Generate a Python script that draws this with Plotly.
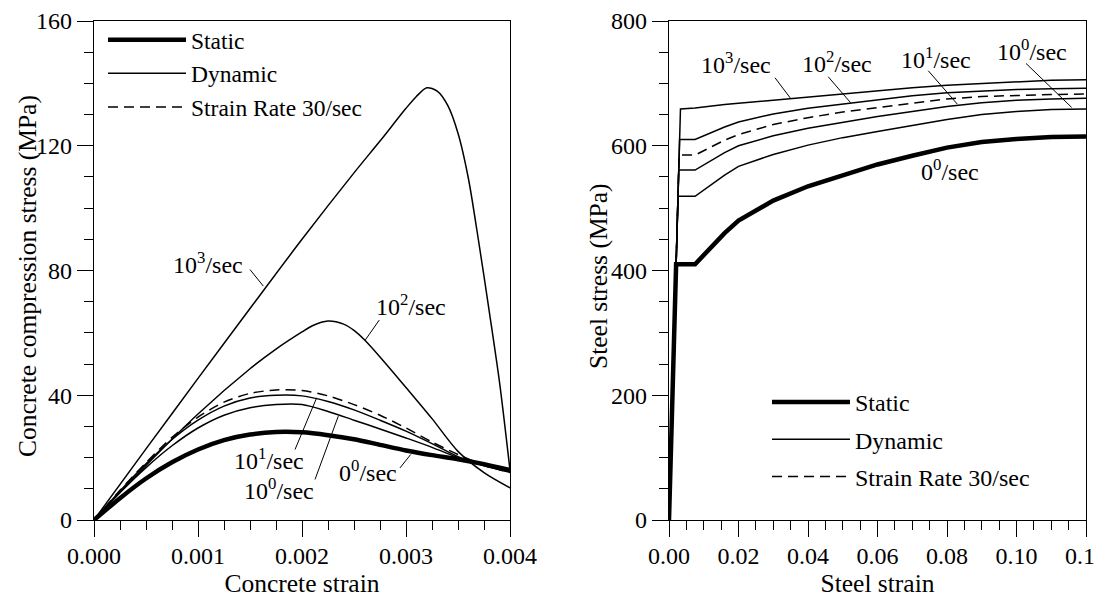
import plotly.graph_objects as go

# ---------------- Concrete (left panel) ----------------
conc_strain = [0.0, 0.00025, 0.0005, 0.00075, 0.001, 0.00125, 0.0015, 0.00175, 0.002,
               0.00225, 0.0025, 0.00275, 0.003, 0.00325, 0.0035, 0.00375, 0.004]
conc_static = [0, 7.0, 13.3, 18.5, 22.6, 25.6, 27.4, 28.2, 28.1, 27.2, 25.9, 24.1, 22.3, 20.8, 19.5, 17.9, 16.0]
conc_r0 = [0, 8.8, 16.8, 23.8, 29.5, 33.6, 36.0, 37.0, 37.0, 34.8, 32.0, 29.2, 26.3, 23.3, 20.0, 17.4, 15.3]
conc_r1 = [0, 9.3, 18.0, 25.8, 32.0, 36.5, 39.1, 40.0, 39.8, 38.0, 35.3, 32.0, 28.5, 24.5, 20.3, 17.5, 15.5]
conc_r30 = [0, 9.5, 18.4, 26.5, 33.0, 37.8, 40.6, 41.7, 41.5, 39.8, 37.0, 33.6, 29.5, 25.0, 21.0, 17.6, 15.2]
conc_strain_r2 = [0.0, 0.0005, 0.001, 0.0015, 0.00175, 0.002, 0.0021, 0.00225, 0.0024, 0.0025,
                  0.0026, 0.00275, 0.003, 0.00325, 0.0035, 0.00375, 0.004]
conc_r2 = [0, 17.5, 34.0, 48.5, 54.8, 60.3, 62.3, 63.8, 62.8, 60.8, 57.8, 52.3, 42.5, 32.5, 22.0, 15.2, 10.3]
conc_strain_r3 = [0.0, 0.0005, 0.001, 0.0015, 0.002, 0.0025, 0.00275, 0.003, 0.0031, 0.0032,
                  0.0033, 0.0034, 0.0035, 0.0036, 0.0037, 0.0038, 0.0039, 0.004]
conc_r3 = [0, 22.8, 45.4, 67.8, 90.0, 111.3, 121.5, 132.0, 135.8, 138.6,
           137.5, 133.0, 124.0, 109.5, 89.0, 67.0, 44.0, 16.0]

# ---------------- Steel (right panel) ----------------
steel_hard_strain = [0.0075, 0.012, 0.016, 0.02, 0.03, 0.04, 0.05, 0.06, 0.07, 0.08, 0.09, 0.10, 0.11, 0.12]
steel_yield_strain = {"static": 0.00205, "r0": 0.0026, "r1": 0.0028, "r30": 0.0029, "r2": 0.00305, "r3": 0.0033}
steel_static = [0, 410, 410, 437, 460, 480, 512, 535, 553, 570, 584, 597, 606, 611, 614, 615]
steel_r0 = [0, 519, 519, 537, 553, 567, 586, 601, 613, 623, 633, 642, 650, 655, 658, 659]
steel_r1 = [0, 561, 561, 576, 589, 600, 616, 628, 638, 647, 655, 663, 669, 673, 675, 676]
steel_r30 = [0, 585, 585, 598, 609, 618, 634, 645, 654, 661, 668, 675, 679, 681, 682, 683]
steel_r2 = [0, 610, 610, 621, 630, 638, 651, 660, 667, 674, 680, 685, 688, 690, 691.5, 692]
steel_r3 = [0, 659, 660.5, 664, 666, 668, 673, 679, 684, 689, 693, 697, 700, 703, 705, 706]

conc_xticks = [0.0, 0.001, 0.002, 0.003, 0.004]
conc_yticks = [0, 40, 80, 120, 160]
steel_xticks = [0.0, 0.02, 0.04, 0.06, 0.08, 0.10, 0.12]
steel_yticks = [0, 200, 400, 600, 800]

FONT = "Liberation Serif, Times New Roman, serif"
BLACK = "#000000"
THICK = 4.5
THIN = 1.5
DASH = "10px,6px"

# the page adds an 8 px body margin, so the figure is 8 px smaller than the window
W, H = 1094, 593

fig = go.Figure()

def steel_x(key):
    return [0.0, steel_yield_strain[key]] + steel_hard_strain

# concrete traces
fig.add_trace(go.Scatter(x=conc_strain, y=conc_static, mode="lines", name="Static",
                         line=dict(color=BLACK, width=THICK, shape="spline", smoothing=0.8),
                         xaxis="x", yaxis="y", legend="legend"))
fig.add_trace(go.Scatter(x=conc_strain, y=conc_r0, mode="lines", name="Dynamic",
                         line=dict(color=BLACK, width=THIN, shape="spline", smoothing=0.8),
                         xaxis="x", yaxis="y", legend="legend"))
fig.add_trace(go.Scatter(x=conc_strain, y=conc_r30, mode="lines", name="Strain Rate 30/sec",
                         line=dict(color=BLACK, width=THIN, dash=DASH, shape="spline", smoothing=0.8),
                         xaxis="x", yaxis="y", legend="legend"))
fig.add_trace(go.Scatter(x=conc_strain, y=conc_r1, mode="lines", showlegend=False,
                         line=dict(color=BLACK, width=THIN, shape="spline", smoothing=0.8),
                         xaxis="x", yaxis="y"))
fig.add_trace(go.Scatter(x=conc_strain_r2, y=conc_r2, mode="lines", showlegend=False,
                         line=dict(color=BLACK, width=THIN, shape="spline", smoothing=0.8),
                         xaxis="x", yaxis="y"))
fig.add_trace(go.Scatter(x=conc_strain_r3, y=conc_r3, mode="lines", showlegend=False,
                         line=dict(color=BLACK, width=THIN, shape="spline", smoothing=0.8),
                         xaxis="x", yaxis="y"))

# steel traces
fig.add_trace(go.Scatter(x=steel_x("static"), y=steel_static, mode="lines", name="Static",
                         line=dict(color=BLACK, width=THICK), xaxis="x2", yaxis="y2",
                         legend="legend2", legendgroup="s1"))
fig.add_trace(go.Scatter(x=steel_x("r0"), y=steel_r0, mode="lines", name="Dynamic",
                         line=dict(color=BLACK, width=THIN), xaxis="x2", yaxis="y2",
                         legend="legend2", legendgroup="s2"))
fig.add_trace(go.Scatter(x=steel_x("r30"), y=steel_r30, mode="lines", name="Strain Rate 30/sec",
                         line=dict(color=BLACK, width=THIN, dash=DASH), xaxis="x2", yaxis="y2",
                         legend="legend2", legendgroup="s3"))
for key, ys in (("r1", steel_r1), ("r2", steel_r2), ("r3", steel_r3)):
    fig.add_trace(go.Scatter(x=steel_x(key), y=ys, mode="lines", showlegend=False,
                             line=dict(color=BLACK, width=THIN), xaxis="x2", yaxis="y2"))

axis_common = dict(showgrid=False, zeroline=False, showline=True, linecolor=BLACK, linewidth=1.3,
                   mirror=True, ticks="outside", ticklen=16, tickwidth=1.3, tickcolor=BLACK,
                   automargin=False, ticklabeloverflow="allow",
                   tickfont=dict(family=FONT, size=24, color=BLACK))
title_font = dict(family=FONT, size=25.5, color=BLACK)

ydom = [(H - 512) / H, (H - 13) / H]

fig.update_layout(
    width=W, height=H,
    margin=dict(l=0, r=0, t=0, b=0, autoexpand=False),
    paper_bgcolor="white", plot_bgcolor="white",
    font=dict(family=FONT, size=24, color=BLACK),
    xaxis=dict(domain=[86 / W, 502 / W], range=[0, 0.004], anchor="y",
               tickvals=conc_xticks, tickformat=".3f", ticklabelstandoff=-2,
               minor=dict(dtick=0.00025, ticklen=9, tickwidth=1.3, tickcolor=BLACK, ticks="outside"),
               title=dict(text="Concrete strain", standoff=5, font=title_font), **axis_common),
    yaxis=dict(domain=ydom, range=[0, 160], anchor="x",
               tickvals=conc_yticks,
               minor=dict(dtick=10, ticklen=9, tickwidth=1.3, tickcolor=BLACK, ticks="outside"),
               **axis_common),
    xaxis2=dict(domain=[661 / W, 1078 / W], range=[0, 0.12], anchor="y2",
                tickvals=steel_xticks, tickformat=".2f", ticklabelstandoff=-2,
                minor=dict(dtick=0.005, ticklen=9, tickwidth=1.3, tickcolor=BLACK, ticks="outside"),
                title=dict(text="Steel strain", standoff=5, font=title_font), **axis_common),
    yaxis2=dict(domain=ydom, range=[0, 800], anchor="x2",
                tickvals=steel_yticks,
                minor=dict(dtick=50, ticklen=9, tickwidth=1.3, tickcolor=BLACK, ticks="outside"),
                **axis_common),
    legend=dict(x=95 / W, y=(H - 10) / H, xanchor="left", yanchor="top", itemwidth=78,
                bgcolor="rgba(0,0,0,0)", font=dict(family=FONT, size=23.5, color=BLACK)),
    legend2=dict(x=759 / W, y=(H - 372) / H, xanchor="left", yanchor="top", itemwidth=78,
                 bgcolor="rgba(0,0,0,0)", tracegroupgap=3,
                 font=dict(family=FONT, size=24, color=BLACK)),
)

# vertical axis titles
fig.add_annotation(x=19 / W, y=(H - 268) / H, xref="paper", yref="paper", textangle=-90,
                   text="Concrete compression stress (MPa)", showarrow=False,
                   xanchor="center", yanchor="middle", font=title_font)
fig.add_annotation(x=590 / W, y=(H - 268) / H, xref="paper", yref="paper", textangle=-90,
                   text="Steel stress (MPa)", showarrow=False,
                   xanchor="center", yanchor="middle", font=title_font)

# rate labels with leader lines (label position, leader start, leader end) in data units
conc_labels = [
    ("10<sup>3</sup>/sec", 0.00110, 82.5, 0.00150, 80.3, 0.001628, 75.0),
    ("10<sup>2</sup>/sec", 0.003050, 68.8, 0.002743, 64.1, 0.002606, 57.6),
    ("10<sup>1</sup>/sec", 0.00168, 19.4, 0.001933, 22.6, 0.002141, 39.2),
    ("10<sup>0</sup>/sec", 0.001780, 9.8, 0.002125, 13.0, 0.002349, 33.3),
    ("0<sup>0</sup>/sec", 0.002635, 15.6, 0.002942, 16.7, 0.003045, 21.0),
]
steel_labels = [
    ("10<sup>3</sup>/sec", 0.01942, 732, 0.0305, 709, 0.0350, 675.8),
    ("10<sup>2</sup>/sec", 0.04826, 734, 0.04584, 710.5, 0.05229, 668.8),
    ("10<sup>1</sup>/sec", 0.07678, 740, 0.07462, 720.2, 0.08297, 666.7),
    ("10<sup>0</sup>/sec", 0.10455, 753.4, 0.10273, 732, 0.11588, 661.4),
    ("0<sup>0</sup>/sec", 0.08086, 560.6, None, None, None, None),
]

for labels, xr, yr in ((conc_labels, "x", "y"), (steel_labels, "x2", "y2")):
    for text, tx, ty, x0, y0, x1, y1 in labels:
        fig.add_annotation(x=tx, y=ty, xref=xr, yref=yr, text=text, showarrow=False,
                           xanchor="center", yanchor="middle",
                           font=dict(family=FONT, size=24, color=BLACK))
        if x0 is not None:
            fig.add_shape(type="line", x0=x0, y0=y0, x1=x1, y1=y1, xref=xr, yref=yr,
                          line=dict(color=BLACK, width=1))

fig.write_html("out.html")
